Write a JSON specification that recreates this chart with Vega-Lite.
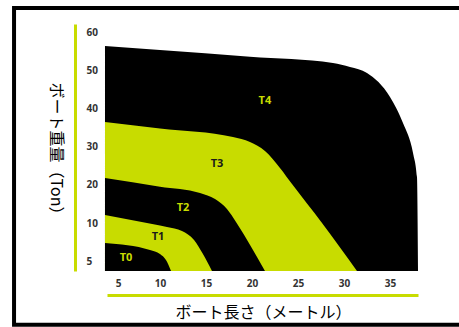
{
  "$schema": "https://vega.github.io/schema/vega-lite/v6.json",
  "width": 311,
  "height": 247,
  "autosize": {"type": "none"},
  "padding": {"left": 107, "top": 24, "right": 41, "bottom": 56},
  "background": "white",
  "config": {"view": {"stroke": null}},
  "datasets": {
    "bands": [
      {"tier": "T4", "m": 3.45, "t": 56.34},
      {"tier": "T4", "m": 10.0, "t": 55.26},
      {"tier": "T4", "m": 19.78, "t": 53.51},
      {"tier": "T4", "m": 28.8, "t": 51.88},
      {"tier": "T4", "m": 30.65, "t": 50.84},
      {"tier": "T4", "m": 32.5, "t": 49.27},
      {"tier": "T4", "m": 35.0, "t": 42.98},
      {"tier": "T4", "m": 36.41, "t": 36.18},
      {"tier": "T4", "m": 37.5, "t": 28.32},
      {"tier": "T4", "m": 37.93, "t": 22.04},
      {"tier": "T4", "m": 38.04, "t": 3.68},
      {"tier": "T3", "m": 3.45, "t": 36.44},
      {"tier": "T3", "m": 10.0, "t": 34.76},
      {"tier": "T3", "m": 17.93, "t": 32.51},
      {"tier": "T3", "m": 19.78, "t": 31.2},
      {"tier": "T3", "m": 21.41, "t": 28.85},
      {"tier": "T3", "m": 23.04, "t": 24.4},
      {"tier": "T3", "m": 24.35, "t": 20.2},
      {"tier": "T3", "m": 27.61, "t": 10.0},
      {"tier": "T3", "m": 31.41, "t": 3.68},
      {"tier": "T2", "m": 3.45, "t": 21.78},
      {"tier": "T2", "m": 10.0, "t": 19.5},
      {"tier": "T2", "m": 14.35, "t": 17.85},
      {"tier": "T2", "m": 15.98, "t": 16.28},
      {"tier": "T2", "m": 17.28, "t": 13.66},
      {"tier": "T2", "m": 18.26, "t": 10.26},
      {"tier": "T2", "m": 18.33, "t": 10.0},
      {"tier": "T2", "m": 21.41, "t": 3.68},
      {"tier": "T1", "m": 3.45, "t": 12.09},
      {"tier": "T1", "m": 8.45, "t": 10.0},
      {"tier": "T1", "m": 10.0, "t": 9.67},
      {"tier": "T1", "m": 10.76, "t": 9.47},
      {"tier": "T1", "m": 12.39, "t": 8.95},
      {"tier": "T1", "m": 13.7, "t": 7.76},
      {"tier": "T1", "m": 14.67, "t": 5.92},
      {"tier": "T1", "m": 15.65, "t": 3.68},
      {"tier": "T0", "m": 3.45, "t": 7.37},
      {"tier": "T0", "m": 8.81, "t": 6.45},
      {"tier": "T0", "m": 10.0, "t": 5.92},
      {"tier": "T0", "m": 10.65, "t": 5.13},
      {"tier": "T0", "m": 11.2, "t": 3.68}
    ],
    "labels": [
      {"tier": "T4", "m": 21.4, "t": 41.9},
      {"tier": "T3", "m": 16.2, "t": 25.4},
      {"tier": "T2", "m": 12.5, "t": 13.9},
      {"tier": "T1", "m": 9.76, "t": 8.16},
      {"tier": "T0", "m": 5.95, "t": 5.39}
    ]
  },
  "encoding": {
    "x": {
      "field": "m",
      "type": "quantitative",
      "scale": {"domain": [3.69, 5, 10, 35, 38.04], "range": [0, 11, 53, 283, 311], "nice": false, "zero": false},
      "axis": {
        "values": [5, 10, 15, 20, 25, 30, 35],
        "offset": 24,
        "domainColor": "#c8dc00",
        "domainWidth": 3,
        "ticks": false,
        "tickSize": 0,
        "grid": false,
        "labelPadding": -12,
        "labelBaseline": "middle",
        "labelAlign": "center",
        "labelFont": "Open Sans",
        "labelFontWeight": "bold",
        "labelFontSize": 10,
        "labelColor": "#333333",
        "labelOverlap": false,
        "labelFlush": false,
        "title": "ボート長さ（メートル）",
        "titleFont": "Noto Sans CJK JP",
        "titleFontSize": 16,
        "titleFontWeight": "normal",
        "titleColor": "#000000",
        "titleBaseline": "middle",
        "titleAlign": "center",
        "titleX": 156,
        "titleY": 17
      }
    },
    "y": {
      "field": "t",
      "type": "quantitative",
      "scale": {"domain": [3.68, 5, 10, 60, 62.1], "range": [247, 237, 199, 8, 0], "nice": false, "zero": false},
      "axis": {
        "values": [5, 10, 20, 30, 40, 50, 60],
        "offset": 32,
        "domainColor": "#c8dc00",
        "domainWidth": 3,
        "ticks": false,
        "tickSize": 0,
        "grid": false,
        "labelPadding": -11,
        "labelAlign": "left",
        "labelBaseline": "middle",
        "labelFont": "Open Sans",
        "labelFontWeight": "bold",
        "labelFontSize": 10,
        "labelColor": "#333333",
        "labelOverlap": false,
        "labelFlush": false,
        "title": "ボート重量（Ton）",
        "titleFont": "Noto Sans CJK JP",
        "titleFontSize": 16,
        "titleFontWeight": "normal",
        "titleColor": "#000000",
        "titleAngle": 90,
        "titleBaseline": "middle",
        "titleAlign": "center",
        "titleX": -20,
        "titleY": 128
      }
    }
  },
  "layer": [
    {
      "data": {"name": "bands"},
      "transform": [{"filter": "datum.tier === 'T4'"}],
      "mark": {"type": "area", "color": "#000000", "interpolate": "monotone"},
      "encoding": {"y2": {"datum": 3.68}}
    },
    {
      "data": {"name": "bands"},
      "transform": [{"filter": "datum.tier === 'T3'"}],
      "mark": {"type": "area", "color": "#c8dc00", "interpolate": "monotone"},
      "encoding": {"y2": {"datum": 3.68}}
    },
    {
      "data": {"name": "bands"},
      "transform": [{"filter": "datum.tier === 'T2'"}],
      "mark": {"type": "area", "color": "#000000", "interpolate": "monotone"},
      "encoding": {"y2": {"datum": 3.68}}
    },
    {
      "data": {"name": "bands"},
      "transform": [{"filter": "datum.tier === 'T1'"}],
      "mark": {"type": "area", "color": "#c8dc00", "interpolate": "monotone"},
      "encoding": {"y2": {"datum": 3.68}}
    },
    {
      "data": {"name": "bands"},
      "transform": [{"filter": "datum.tier === 'T0'"}],
      "mark": {"type": "area", "color": "#000000", "interpolate": "monotone"},
      "encoding": {"y2": {"datum": 3.68}}
    },
    {
      "data": {"name": "labels"},
      "mark": {"type": "text", "font": "Open Sans", "fontWeight": "bold", "fontSize": 11, "align": "center", "baseline": "middle"},
      "encoding": {
        "text": {"field": "tier"},
        "color": {
          "field": "tier",
          "type": "nominal",
          "scale": {"domain": ["T0", "T1", "T2", "T3", "T4"], "range": ["#c8dc00", "#1a1a1a", "#c8dc00", "#1a1a1a", "#c8dc00"]},
          "legend": null
        }
      }
    },
    {
      "data": {"values": [{"x0": -7.38, "x1": 42.8, "y0": 66.3, "y1": -3.43}]},
      "mark": {"type": "rect", "fill": "transparent", "stroke": "#000000", "strokeWidth": 4, "clip": false},
      "encoding": {
        "x": {"field": "x0", "type": "quantitative"},
        "x2": {"field": "x1"},
        "y": {"field": "y0", "type": "quantitative"},
        "y2": {"field": "y1"}
      }
    }
  ]
}
